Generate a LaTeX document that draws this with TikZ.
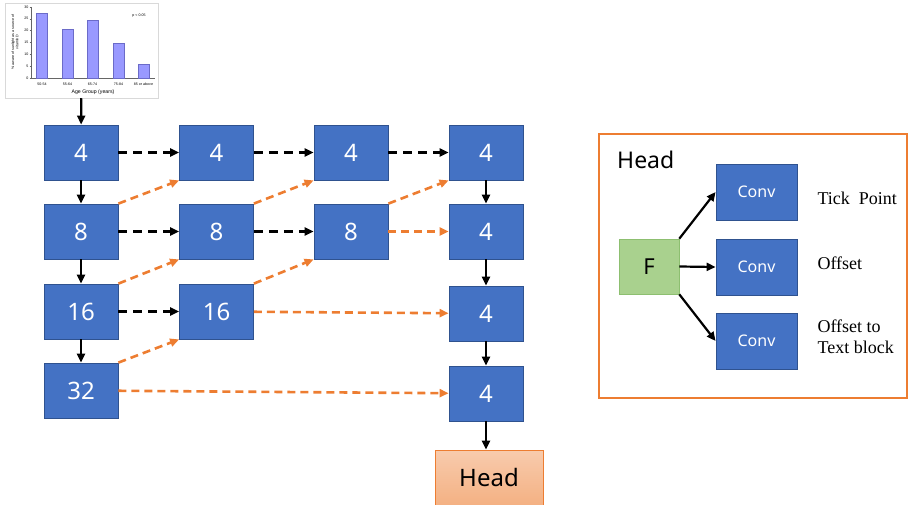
\documentclass[tikz,border=0pt]{standalone}
\usepackage{fontspec}
\setmainfont{Liberation Serif}
\newfontfamily\boxfont{Noto Sans}
\newfontfamily\chartfont{Liberation Sans}
\usetikzlibrary{positioning,arrows.meta,calc}
\definecolor{blk}      {HTML}{4472C4}
\definecolor{blkline}  {HTML}{2F528F}
\definecolor{orng}     {HTML}{ED7D31}
\definecolor{salmon}   {HTML}{F4B183}
\definecolor{salmonlt} {HTML}{F8CBAD}
\definecolor{leaf}     {HTML}{A9D18E}
\definecolor{leafline} {HTML}{8DBF70}
\definecolor{bar}      {HTML}{9999FF}
\definecolor{barline}  {HTML}{6B6BC8}
\definecolor{frame}    {HTML}{D9D9D9}
\tikzset{
  >={Triangle[length=9pt,width=8pt]},
  % --- nodes
  feat/.style   = {draw=blkline, fill=blk, line width=0.8pt, inner sep=0pt,
                   minimum width=74pt, minimum height=55pt, text=white,
                   font=\boxfont\fontsize{24}{28}\selectfont},
  conv/.style   = {feat, minimum width=81pt, minimum height=56pt,
                   font=\boxfont\fontsize{16}{19}\selectfont},
  headbox/.style= {draw=orng, line width=0.6pt, top color=salmonlt, bottom color=salmon,
                   minimum width=108pt, minimum height=55pt, inner sep=0pt,
                   font=\boxfont\fontsize{24}{28}\selectfont},
  fbox/.style   = {draw=leafline, fill=leaf, line width=0.6pt, inner sep=0pt,
                   minimum width=60pt, minimum height=55pt,
                   font=\boxfont\fontsize{22}{26}\selectfont},
  outlbl/.style = {anchor=west, align=left, font=\fontsize{18}{21}\selectfont},
  tinytxt/.style= {font=\chartfont\fontsize{3.6}{4.2}\selectfont, inner sep=0.5pt},
  % --- edges
  vflow/.style  = {->, line width=2.2pt, draw=black},
  hpass/.style  = {->, line width=2.6pt, draw=black, dash pattern=on 9pt off 6pt},
  fuse/.style   = {->, line width=2.6pt, draw=orng, dash pattern=on 8pt off 5pt},
}
\begin{document}
\begin{tikzpicture}[x=1pt,y=-1pt]
  \useasboundingbox (0,0) rectangle (910,505);

  % chart
  \node[draw=frame, line width=0.5pt, minimum width=153pt, minimum height=95pt] (chart) at (81.5,50.5) {};
  \draw[black!60, line width=0.4pt] (31,7) -- (31,78) -- (155,78);
  \foreach \v in {0,5,...,30}{
    \draw[black!60, line width=0.3pt] (29.5,{78-\v*2.37}) -- (31,{78-\v*2.37});
    \node[tinytxt, anchor=east] at (29,{78-\v*2.37}) {\v};
  }
  \foreach \x/\v/\lab in {42/27.4/50-54, 67.5/20.7/55-64, 92.5/24.5/65-74, 118.5/14.8/75-84, 143.5/5.9/85 or above}{
    \draw[draw=barline, fill=bar, line width=0.4pt] (\x-5.5,78) rectangle (\x+5.5,{78-\v*2.37});
    \node[tinytxt] at (\x,84) {\lab};
  }
  \node[tinytxt, rotate=90, align=center] at (15,42) {\% aware of sunlight as a source of\\vitamin D};
  \node[tinytxt] at (139,16) {p < 0.05};
  \node[font=\chartfont\fontsize{5.2}{6}\selectfont, inner sep=0pt] at (93,92) {Age Group (years)};

  % pyramid
  \node[feat] (a1) at (81,152.5) {4};
  \node[feat] (a2) at (81,231.5) {8};
  \node[feat] (a3) at (81,311.5) {16};
  \node[feat] (a4) at (81,390.5) {32};

  \node[feat] (b1) at (216.5,152.5) {4};
  \node[feat] (b2) at (216.5,231.5) {8};
  \node[feat] (b3) at (216.5,311.5) {16};

  \node[feat] (c1) at (351,152.5) {4};
  \node[feat] (c2) at (351,231.5) {8};

  \node[feat] (d1) at (486,152.5) {4};
  \node[feat] (d2) at (486,231.5) {4};
  \node[feat] (d3) at (486,313.5) {4};
  \node[feat] (d4) at (486,393.5) {4};

  \node[headbox] (head) at (489,477.5) {Head};

  \draw[vflow] (chart) -- (a1);
  \draw[vflow] (a1)--(a2); \draw[vflow] (a2)--(a3); \draw[vflow] (a3)--(a4);
  \draw[vflow] (d1)--(d2); \draw[vflow] (d2)--(d3); \draw[vflow] (d3)--(d4);
  \draw[vflow] (d4)--(d4 |- head.north);

  \draw[hpass] (a1)--(b1); \draw[hpass] (b1)--(c1); \draw[hpass] (c1)--(d1);
  \draw[hpass] (a2)--(b2); \draw[hpass] (b2)--(c2);
  \draw[hpass] (a3)--(b3);

  \draw[fuse] (a2.north east)--(b1.south west);
  \draw[fuse] (a3.north east)--(b2.south west);
  \draw[fuse] (a4.north east)--(b3.south west);
  \draw[fuse] (b2.north east)--(c1.south west);
  \draw[fuse] (b3.north east)--(c2.south west);
  \draw[fuse] (c2.north east)--(d1.south west);
  \draw[fuse] (c2)--(d2); \draw[fuse] (b3)--(d3); \draw[fuse] (a4)--(d4);

  % head detail
  \node[draw=orng, line width=2pt, minimum width=308pt, minimum height=264pt] (panel) at (753,266) {};
  \node[anchor=west, inner sep=0pt, font=\boxfont\fontsize{23}{27}\selectfont] (ptitle) at (617,160) {Head};
  \node[fbox] (f) at (649,266.5) {F};
  \node[conv] (k1) at (756.5,192) {Conv};
  \node[conv] (k2) at (756.5,267) {Conv};
  \node[conv] (k3) at (756.5,341) {Conv};
  \node[outlbl] (o1) at (814,198) {Tick\ \ Point};
  \node[outlbl] (o2) at (814,263) {Offset};
  \node[outlbl] (o3) at (814,337) {Offset to\\Text block};

  \draw[vflow] (f.north east)--(k1.west);
  \draw[vflow] (f.east)--(k2.west);
  \draw[vflow] (f.south east)--(k3.west);
\end{tikzpicture}
\end{document}
